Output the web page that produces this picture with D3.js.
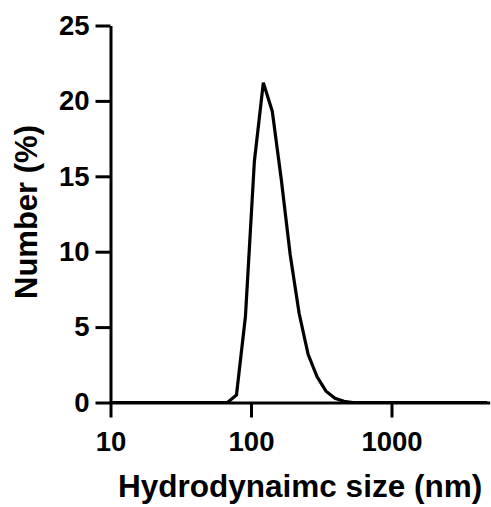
<!DOCTYPE html>
<html>
<head>
<meta charset="utf-8">
<script src="https://cdn.jsdelivr.net/npm/d3@7"></script>
<style>
  html, body { margin: 0; padding: 0; background: #fff; }
  svg { display: block; font-family: "Liberation Sans", Arial, sans-serif; font-weight: bold; }
</style>
</head>
<body>
<svg id="chart"></svg>
<script>
// DLS size bins (nm) and number distribution (%)
const sizes = [10.1, 11.7, 13.54, 15.69, 18.17, 21.04, 24.36, 28.21, 32.67, 37.84, 43.82, 50.75, 58.77,
  68.06, 78.82, 91.28, 105.7, 122.4, 141.8, 164.2, 190.1, 220.2, 255.0, 295.3, 342.0, 396.1, 458.7,
  531.2, 615.1, 712.4, 825.0, 955.4, 1106, 1281, 1484, 1718, 1990, 2305, 2669, 3091, 3580, 4145, 4801];
const number = [0, 0, 0, 0, 0, 0, 0, 0, 0, 0, 0, 0, 0,
  0, 0.5, 5.7, 16.0, 21.2, 19.3, 14.8, 9.8, 5.9, 3.2, 1.7, 0.75, 0.28, 0.08,
  0, 0, 0, 0, 0, 0, 0, 0, 0, 0, 0, 0, 0, 0, 0, 0];
const xTicks = [10, 100, 1000];
const yTicks = [0, 5, 10, 15, 20, 25];

(() => {
  const W = 491, H = 507;
  const m = { l: 110.5, r: 1.3, t: 25.5, b: 104.5 };

  const svg = d3.select("#chart").attr("width", W).attr("height", H);

  const x = d3.scaleLog().domain([10, 5000]).range([m.l, W - m.r]);
  const y = d3.scaleLinear().domain([0, 25]).range([H - m.b, m.t]);

  const data = sizes.map((s, i) => ({ s, v: number[i] }));

  // curve
  svg.append("path")
    .datum(data)
    .attr("fill", "none")
    .attr("stroke", "#000")
    .attr("stroke-width", 3.2)
    .attr("stroke-linejoin", "miter")
    .attr("d", d3.line().x(d => x(d.s)).y(d => y(d.v)));

  // axes
  const xa = svg.append("g")
    .attr("transform", `translate(0,${y(0)})`)
    .call(d3.axisBottom(x).tickValues(xTicks).tickFormat(d3.format("d"))
      .tickSize(15).tickSizeOuter(0).tickPadding(14));
  const ya = svg.append("g")
    .attr("transform", `translate(${x(10)},0)`)
    .call(d3.axisLeft(y).tickValues(yTicks).tickSize(15).tickSizeOuter(0).tickPadding(6));

  [xa, ya].forEach(a => {
    a.selectAll("path, line").attr("stroke", "#000").attr("stroke-width", 3);
    a.selectAll("text").attr("fill", "#000").style("font-size", "27.5px").style("font-weight", "bold")
      .style("font-family", "'Liberation Sans', Arial, sans-serif");
  });

  // titles
  svg.append("text")
    .attr("x", (m.l + W - m.r) / 2).attr("y", 497)
    .attr("text-anchor", "middle")
    .style("font-size", "31.5px")
    .text("Hydrodynaimc size (nm)");

  svg.append("text")
    .attr("transform", "translate(37,212) rotate(-90)")
    .attr("text-anchor", "middle")
    .style("font-size", "31px")
    .text("Number (%)");
})();
</script>
</body>
</html>
